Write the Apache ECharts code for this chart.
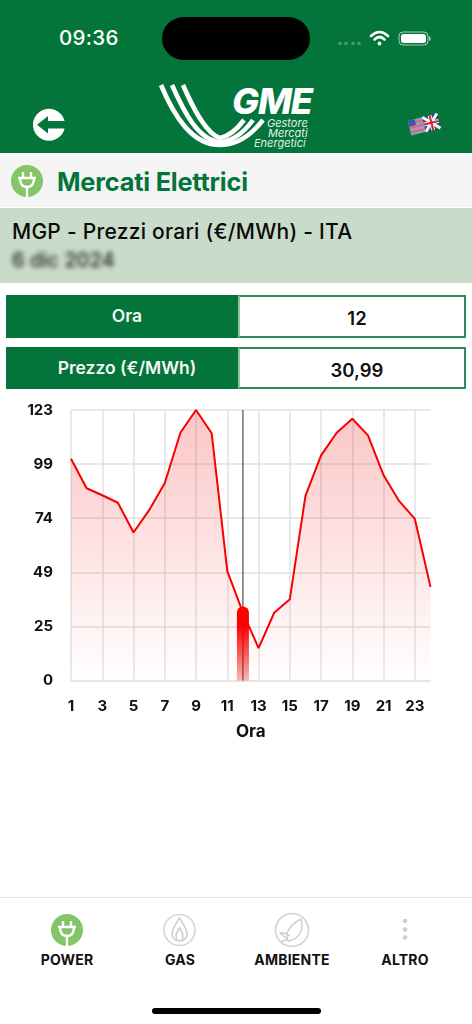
<!DOCTYPE html>
<html><head><meta charset="utf-8">
<script src="https://cdn.jsdelivr.net/npm/echarts@6/dist/echarts.min.js"></script>
<style>
html,body{margin:0;padding:0;background:#fff;width:472px;height:1024px;overflow:hidden;font-family:Inter,"Noto Sans",sans-serif;color:#111}
.a{position:absolute}
.t{position:absolute;white-space:nowrap;line-height:1}
.lab{position:absolute;background:#03753a;left:6px;width:232px;color:#f4f8f4;font-weight:600;font-size:17.500px;text-align:center;padding-left:10px;box-sizing:border-box}
.val{position:absolute;left:238px;background:#fff;border:2px solid #2f8a55;border-left-color:#8fc2a3;font-weight:600;font-size:18.500px;text-align:center;color:#111;padding-left:10px;box-sizing:content-box;width:214px}
.tab{position:absolute;top:953px;width:120px;text-align:center;font-weight:700;font-size:14px;line-height:1;letter-spacing:.2px}
</style></head><body>
<div class="a" style="left:0;top:0;width:472px;height:153px;background:#03753a"></div>
<div class="a" style="left:162px;top:17px;width:148px;height:43px;border-radius:22px;background:#000"></div>
<div class="t" style="left:59px;top:28px;font-size:20.500px;font-weight:500;color:#fff;letter-spacing:.3px">09:36</div>
<svg class="a" style="left:0;top:0" width="472" height="153" viewBox="0 0 472 153">
  <g fill="#4f9c6e"><circle cx="340" cy="43.500" r="1.800"/><circle cx="346" cy="43.500" r="1.800"/><circle cx="353" cy="43.500" r="1.800"/><circle cx="359" cy="43.500" r="1.800"/></g>
  <g fill="none" stroke="#fff" stroke-width="2.600" stroke-linecap="round"><path d="M371 36 Q379.500 28 388 36"/><path d="M374.500 39.500 Q379.500 34.500 384.500 39.500"/></g>
  <circle cx="379.500" cy="43.500" r="1.900" fill="#fff"/>
  <rect x="399" y="32" width="29" height="13" rx="4" fill="none" stroke="#a8cdb7" stroke-width="1"/><rect x="401" y="34" width="25" height="9" rx="2.500" fill="#fff"/><rect x="429" y="36.500" width="1.500" height="4" fill="#a8cdb7"/>
  <circle cx="49" cy="124.700" r="16" fill="#fff"/>
  <path d="M37 124.700 L48 116 V121 H65 V128.500 H48 V133.500 Z" fill="#03753a"/>
  <g fill="none" stroke="#fff" stroke-width="4.600">
    <path d="M161 85 C174 116 192 145 220 145 C238 145 252 134 263 120"/>
    <path d="M172 85 C184 112 198 140 220 142 C234 141 245 131 253 120"/>
    <path d="M183 85 C193 108 206 134 220 138 C230 136 238 128 244 120"/>
  </g>
  <g transform="rotate(-14 424 124)">
    <rect x="409" y="117" width="15" height="15" fill="#8e9fd0"/>
    <path d="M409 120 H424 M409 124.500 H424 M409 129 H424" stroke="#e8606a" stroke-width="2"/>
    <rect x="409" y="117" width="7" height="6" fill="#3f57a8"/>
    <rect x="424" y="117" width="15" height="15" fill="#2a3f96"/>
    <path d="M424 117 L439 132 M439 117 L424 132" stroke="#f2f2f2" stroke-width="3"/>
    <path d="M431.500 117 V132 M424 124.500 H439" stroke="#f2f2f2" stroke-width="4"/>
    <path d="M431.500 117 V132 M424 124.500 H439" stroke="#d2232a" stroke-width="2"/>
  </g>
</svg>
<div class="t" style="left:232px;top:83px;font-size:36px;font-weight:800;font-style:italic;color:#fff;letter-spacing:-1.200px;font-family:Inter">GME</div>
<div class="t" style="left:267px;top:118px;font-size:11px;font-style:italic;color:#e4f0e8">Gestore</div>
<div class="t" style="left:268px;top:128px;font-size:11px;font-style:italic;color:#e4f0e8">Mercati</div>
<div class="t" style="left:254px;top:138px;font-size:11px;font-style:italic;color:#e4f0e8">Energetici</div>

<div class="a" style="left:0;top:154px;width:472px;height:53px;background:#f4f4f4"></div>
<svg class="a" style="left:11px;top:165px" width="32" height="32" viewBox="0 0 32 32"><circle cx="16" cy="16" r="16" fill="#84c567"/><path d="M7 13 H25 M12 7 V13 M20 7 V13 M9 13 C9 21 13 22 16 22 C19 22 23 21 23 13 M16 22 V32" fill="none" stroke="#fff" stroke-width="2.400"/></svg>
<div class="t" style="left:57px;top:169px;font-size:25.300px;font-weight:700;color:#03753a;letter-spacing:-.2px">Mercati Elettrici</div>
<div class="a" style="left:0;top:208px;width:472px;height:75px;background:#c9dbc9"></div>
<div class="t" style="left:12px;top:221px;font-size:21px;font-weight:500;color:#0a0a0a;letter-spacing:.25px">MGP - Prezzi orari (€/MWh) - ITA</div>
<div class="t" style="left:12px;top:250px;font-size:20px;font-weight:500;color:#222;filter:blur(2.500px)">6 dic 2024</div>

<div class="lab" style="top:295px;height:43px;line-height:42px">Ora</div>
<div class="val" style="top:295px;height:39px;line-height:42px">12</div>
<div class="lab" style="top:347px;height:42px;line-height:42px">Prezzo (€/MWh)</div>
<div class="val" style="top:347px;height:38px;line-height:43px">30,99</div>

<div id="chart" class="a" style="left:0;top:395px;width:472px;height:450px"></div>

<div class="a" style="left:0;top:897px;width:472px;height:1px;background:#e4e4e4"></div>
<svg class="a" style="left:0;top:905px" width="472" height="60" viewBox="0 0 472 60">
  <circle cx="67" cy="25" r="16" fill="#84c567"/><path d="M58 22 H76 M63 16 V22 M71 16 V22 M60 22 C60 30 64 31 67 31 C70 31 74 30 74 22 M67 31 V41" fill="none" stroke="#fff" stroke-width="2.400"/>
  <circle cx="179.500" cy="25" r="15.500" fill="#fff" stroke="#d4d4d4" stroke-width="1.600"/>
  <path d="M179.500 13 C184 20 187 24 187 29 C187 33 184 36 179.500 36 C175 36 172 33 172 29 C172 24 175 20 179.500 13 Z M179.500 23 C177 27 176 29 176 31 C176 34 178 36 179.500 36 C181 36 183 34 183 31 C183 29 182 27 179.500 23 Z" fill="none" stroke="#cfcfcf" stroke-width="1.600"/>
  <circle cx="292" cy="25" r="16.500" fill="#fff" stroke="#d4d4d4" stroke-width="1.600"/>
  <path d="M288 36 C284 26 292 19 301 14 C304 24 300 34 288 36 Z M288 36 C284 30 281 29 280 28 C284 27 287 29 290 31 M281 37 C284 35 287 35 290 36" fill="#fff" stroke="#cfcfcf" stroke-width="1.500"/>
  <g fill="#cfcfcf"><circle cx="405" cy="16" r="2.300"/><circle cx="405" cy="24.500" r="2.300"/><circle cx="405" cy="32.500" r="2.300"/></g>
</svg>
<div class="tab" style="left:7px">POWER</div>
<div class="tab" style="left:120px">GAS</div>
<div class="tab" style="left:232px">AMBIENTE</div>
<div class="tab" style="left:345px">ALTRO</div>
<div class="a" style="left:152px;top:1008px;width:169px;height:6px;border-radius:3px;background:#000"></div>

<script>
var hours = ['1','2','3','4','5','6','7','8','9','10','11','12','13','14','15','16','17','18','19','20','21','22','23','24'];
var prices = [101.2,87.7,84.5,81.1,67.5,77.7,90.1,113,123.4,112.8,49.9,30.99,14.8,30.9,37.1,84.2,102.7,113,119.4,111.8,93.6,81.8,73.7,42.7];
var selectedHour = '12';
var selectedPrice = 30.99;
var yMax = 123.4;
var yStep = 24.68;

var chart = echarts.init(document.getElementById('chart'), null, {renderer:'canvas'});
var labelStyle = {color:'#111', fontWeight:700, fontSize:15, fontFamily:'Inter'};
function oddHour(i){ return i % 2 === 0; }
chart.setOption({
  animation:false,
  grid:{left:71, right:41.500, top:15, height:270.500, outerBoundsMode:'none'},
  xAxis:{
    type:'category', data:hours, boundaryGap:false,
    name:'Ora', nameLocation:'middle', nameGap:43,
    nameTextStyle:{color:'#111', fontWeight:700, fontSize:17, fontFamily:'Inter'},
    axisLine:{show:true, lineStyle:{color:'#e4e4e4', width:1.500}},
    axisTick:{show:false},
    axisLabel:Object.assign({interval:oddHour, margin:18, hideOverlap:false, alignMaxLabel:'center', alignMinLabel:'center'}, labelStyle),
    splitLine:{show:true, interval:oddHour, lineStyle:{color:'#e2e2e2', width:1.500}}
  },
  yAxis:{
    type:'value', min:0, max:yMax, interval:yStep,
    axisLine:{show:false}, axisTick:{show:false},
    axisLabel:Object.assign({margin:18, formatter:function(v){return String(Math.round(v));}}, labelStyle),
    splitLine:{show:true, lineStyle:{color:'#e2e2e2', width:1.500}}
  },
  series:[
    {type:'line', data:prices, symbol:'none', z:2,
     lineStyle:{color:'#f70000', width:2},
     areaStyle:{color:new echarts.graphic.LinearGradient(0,0,0,1,[
       {offset:0,color:'rgba(235,0,0,0.32)'},{offset:1,color:'rgba(255,0,0,0)'}])}},
    {type:'custom', z:3, clip:false, data:[[selectedHour, selectedPrice]],
     encode:{x:0,y:1},
     renderItem:function(params, api){
       var top = api.coord([api.value(0), api.value(1)]);
       var bot = api.coord([api.value(0), 0]);
       return {type:'group', children:[
         {type:'line', shape:{x1:top[0], y1:api.coord([api.value(0), yMax])[1], x2:top[0], y2:bot[1]},
          style:{stroke:'rgba(20,20,20,0.9)', lineWidth:1}},
         {type:'rect', shape:{x:top[0]-6, y:top[1]-6, width:12, height:bot[1]-top[1]+6, r:[6,6,0,0]},
          style:{fill:new echarts.graphic.LinearGradient(0,0,0,1,[
            {offset:0,color:'#ff0000'},{offset:0.25,color:'#fa0000'},{offset:1,color:'rgba(245,0,0,0.28)'}])}}
       ]};
     }}
  ]
});
</script>
</body></html>
